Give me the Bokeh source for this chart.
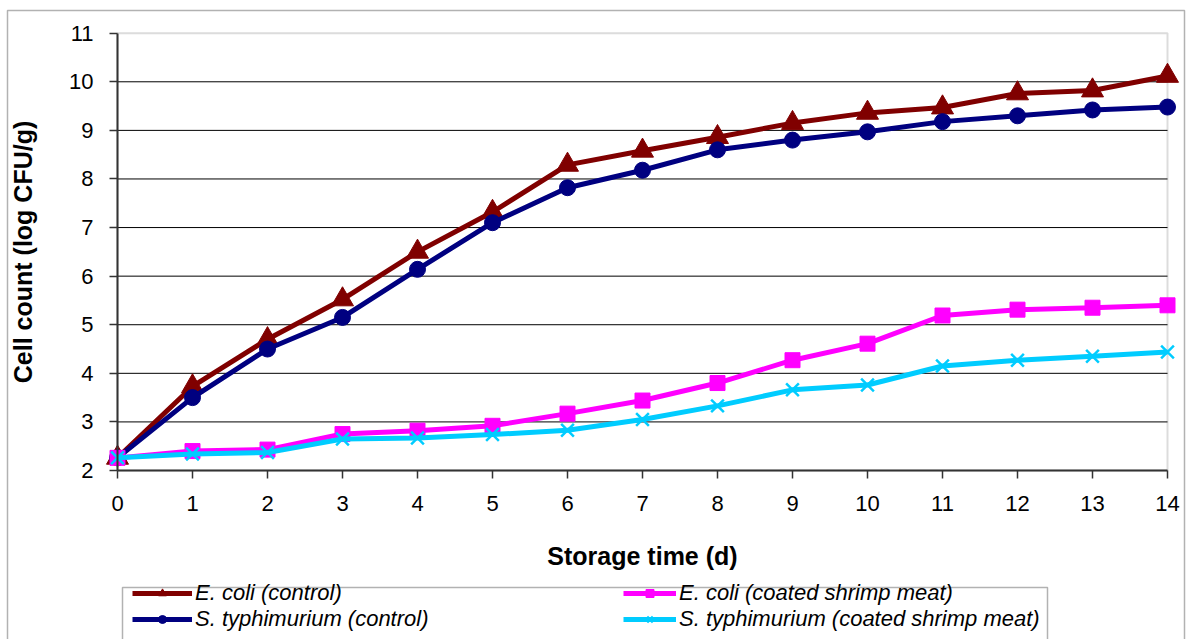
from bokeh.plotting import figure
from bokeh.models import Range1d, Legend, LegendItem, BoxAnnotation, FixedTicker, LinearAxis
from bokeh.embed import file_html
from bokeh.resources import INLINE

days = list(range(15))
ecoli_control = [2.26, 3.73, 4.70, 5.52, 6.50, 7.32, 8.29, 8.58, 8.86, 9.15, 9.36, 9.47, 9.76, 9.82, 10.12]
styph_control = [2.26, 3.50, 4.50, 5.15, 6.14, 7.10, 7.82, 8.18, 8.60, 8.80, 8.97, 9.18, 9.30, 9.42, 9.48]
ecoli_coated = [2.26, 2.40, 2.43, 2.75, 2.82, 2.92, 3.17, 3.44, 3.80, 4.27, 4.61, 5.19, 5.31, 5.35, 5.40]
styph_coated = [2.26, 2.34, 2.37, 2.65, 2.67, 2.74, 2.83, 3.05, 3.33, 3.66, 3.76, 4.15, 4.27, 4.35, 4.44]

x_ticks = list(range(0, 15))
y_ticks = list(range(2, 12))

labels = ["E. coli (control)", "S. typhimurium (control)",
          "E. coli (coated shrimp meat)", "S. typhimurium (coated shrimp meat)"]

FONT = "Liberation Sans"
W, H = 1187, 639
# plot-area placement on the canvas (pixels)
PX0, PX1, PY_TOP, PY_BOT = 117, 1167, 32.7, 470
xs = (PX1 - PX0) / (x_ticks[-1] - x_ticks[0])
ys = (PY_BOT - PY_TOP) / (y_ticks[-1] - y_ticks[0])
x_range = Range1d(x_ticks[0] - PX0 / xs, x_ticks[-1] + (W - PX1) / xs)
y_range = Range1d(y_ticks[0] - (H - PY_BOT) / ys, y_ticks[-1] + PY_TOP / ys)

p = figure(width=W, height=H, output_backend="svg", toolbar_location=None,
           x_range=x_range, y_range=y_range,
           x_axis_location=None, y_axis_location=None,
           min_border=0, min_border_left=0, min_border_right=0,
           min_border_top=0, min_border_bottom=0)
p.background_fill_color = "white"
p.border_fill_color = "white"
p.outline_line_color = None
p.grid.visible = False

# Outer chart border and plot-area outline
p.add_layout(BoxAnnotation(left=7, right=1184, top=10, bottom=700,
                           left_units="canvas", right_units="canvas",
                           top_units="canvas", bottom_units="canvas",
                           fill_alpha=0, line_color="black", line_width=1.5, level="underlay"))
p.add_layout(BoxAnnotation(left=x_ticks[0], right=x_ticks[-1], bottom=y_ticks[0], top=y_ticks[-1],
                           fill_color="white", fill_alpha=1, line_color="#8c8c8c",
                           line_width=2, level="underlay"))

# horizontal gridlines
inner = y_ticks[1:-1]
p.segment(x0=[x_ticks[0]] * len(inner), x1=[x_ticks[-1]] * len(inner), y0=inner, y1=inner,
          line_color="black", line_width=1)

xaxis = LinearAxis(fixed_location=y_ticks[0], bounds=(x_ticks[0], x_ticks[-1]),
                   ticker=FixedTicker(ticks=x_ticks), axis_label="Storage time (d)")
yaxis = LinearAxis(fixed_location=x_ticks[0], bounds=(y_ticks[0], y_ticks[-1]),
                   ticker=FixedTicker(ticks=y_ticks), axis_label="Cell count (log CFU/g)")
for ax in (xaxis, yaxis):
    ax.axis_line_color = "#333333"
    ax.axis_line_width = 2
    ax.major_tick_line_color = "#333333"
    ax.major_tick_line_width = 1.5
    ax.major_tick_in = 0
    ax.major_tick_out = 8
    ax.minor_tick_line_color = None
    ax.major_label_text_font = FONT
    ax.major_label_text_font_size = "22px"
    ax.major_label_text_color = "black"
    ax.axis_label_text_font = FONT
    ax.axis_label_text_font_size = "25px"
    ax.axis_label_text_font_style = "bold"
    ax.axis_label_text_color = "black"
xaxis.major_label_standoff = 17
yaxis.major_label_standoff = 16
xaxis.axis_label_standoff = 28
yaxis.axis_label_standoff = 29
p.add_layout(xaxis, "below")
p.add_layout(yaxis, "left")

series = [
    (ecoli_control, "#800000", "triangle", 22, 1),
    (styph_control, "#000080", "circle", 16, 1),
    (ecoli_coated, "#FF00FF", "square", 15, 1),
    (styph_coated, "#00CCFF", "x", 18, 2.5),
]
items = []
for (vals, color, marker, size, mlw), lab in zip(series, labels):
    ln = p.line(days, vals, line_color=color, line_width=5)
    sc = p.scatter(days, vals, marker=marker, size=size, fill_color=color,
                   line_color=color, line_width=mlw)
    items.append(LegendItem(label=lab, renderers=[ln, sc]))

# legend box
p.add_layout(BoxAnnotation(left=122, right=1047, top=587, bottom=700,
                           left_units="canvas", right_units="canvas",
                           top_units="canvas", bottom_units="canvas",
                           fill_alpha=0, line_color="black", line_width=1.5))

for its, loc, gw in ((items[0:2], (132, 7), 60), (items[2:4], (623, 7), 53)):
    lg = Legend(items=its, location=loc, orientation="vertical")
    lg.padding = 0
    lg.margin = 0
    lg.spacing = 0
    lg.border_line_color = None
    lg.background_fill_alpha = 0
    lg.glyph_width = gw
    lg.glyph_height = 20
    lg.label_height = 20
    lg.label_standoff = 3
    lg.label_text_font = FONT
    lg.label_text_font_size = "22px"
    lg.label_text_font_style = "italic"
    lg.label_text_color = "black"
    lg.label_text_line_height = 0.9
    p.add_layout(lg, "center")

open("out.html", "w").write(file_html(p, INLINE))
